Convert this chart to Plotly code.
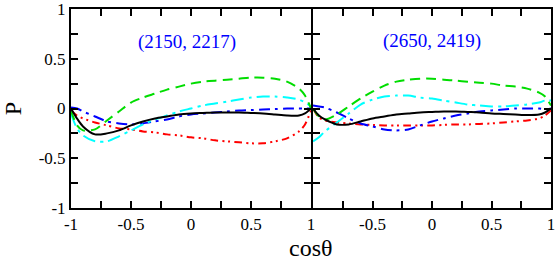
import plotly.graph_objects as go

cos_theta = [-1, -0.95, -0.9, -0.8, -0.7, -0.6, -0.5, -0.4, -0.3, -0.2, -0.1, 0,
             0.1, 0.2, 0.3, 0.4, 0.5, 0.6, 0.7, 0.8, 0.9, 0.95, 1]

panel_labels = ["(2150, 2217)", "(2650, 2419)"]

# Panel 1: (2150, 2217)
p1_black = [0.0, -0.10, -0.18, -0.26, -0.25, -0.22, -0.17, -0.13, -0.10, -0.08, -0.06, -0.05,
            -0.045, -0.04, -0.04, -0.04, -0.045, -0.05, -0.06, -0.07, -0.07, -0.05, 0.0]
p1_green = [-0.02, -0.17, -0.22, -0.21, -0.12, -0.03, 0.06, 0.11, 0.15, 0.19, 0.22, 0.25,
            0.27, 0.28, 0.29, 0.30, 0.31, 0.31, 0.30, 0.27, 0.20, 0.13, 0.0]
p1_cyan = [-0.05, -0.20, -0.27, -0.33, -0.33, -0.28, -0.22, -0.16, -0.11, -0.07, -0.03, 0.0,
           0.03, 0.05, 0.07, 0.09, 0.11, 0.12, 0.12, 0.11, 0.09, 0.06, 0.02]
p1_blue = [0.01, 0.0, -0.03, -0.08, -0.13, -0.15, -0.16, -0.15, -0.13, -0.11, -0.08, -0.06,
           -0.05, -0.04, -0.03, -0.02, -0.015, -0.01, -0.005, 0.0, 0.0, 0.0, 0.0]
p1_red = [-0.02, -0.07, -0.10, -0.14, -0.17, -0.20, -0.21, -0.23, -0.24, -0.26, -0.27, -0.29,
          -0.30, -0.32, -0.33, -0.34, -0.35, -0.35, -0.33, -0.30, -0.23, -0.16, -0.02]

# Panel 2: (2650, 2419)
p2_black = [0.0, -0.07, -0.11, -0.16, -0.16, -0.13, -0.10, -0.08, -0.06, -0.05, -0.04, -0.035,
            -0.03, -0.03, -0.035, -0.04, -0.05, -0.055, -0.06, -0.065, -0.06, -0.04, 0.0]
p2_green = [0.0, -0.08, -0.11, -0.06, 0.02, 0.10, 0.17, 0.23, 0.27, 0.29, 0.30, 0.30,
            0.29, 0.28, 0.27, 0.26, 0.25, 0.23, 0.22, 0.20, 0.16, 0.12, 0.03]
p2_cyan = [-0.33, -0.29, -0.23, -0.14, -0.05, 0.04, 0.09, 0.12, 0.13, 0.13, 0.11, 0.10,
           0.08, 0.06, 0.04, 0.03, 0.02, 0.02, 0.03, 0.04, 0.06, 0.08, 0.08]
p2_blue = [0.03, 0.02, 0.01, -0.04, -0.10, -0.15, -0.18, -0.21, -0.22, -0.21, -0.17, -0.13,
           -0.10, -0.07, -0.05, -0.03, -0.02, -0.01, 0.0, 0.0, 0.0, -0.01, 0.0]
p2_red = [0.0, -0.09, -0.12, -0.14, -0.15, -0.16, -0.165, -0.17, -0.17, -0.17, -0.17, -0.17,
          -0.165, -0.16, -0.16, -0.155, -0.15, -0.14, -0.13, -0.12, -0.10, -0.07, -0.02]

x1_tickvals = [-1, -0.5, 0, 0.5, 1]
x1_ticktext = ["-1", "-0.5", "0", "0.5", "1"]
x2_tickvals = [-0.5, 0, 0.5, 1]
x2_ticktext = ["-0.5", "0", "0.5", "1"]
y_tickvals = [-1, -0.5, 0, 0.5, 1]
y_ticktext = ["-1", "-0.5", "0", "0.5", "1"]

styles = [
    ("red", "#ff0000", "8px,4px,2px,4px,2px,4px"),
    ("blue", "#0000ff", "11px,5px,3px,5px"),
    ("cyan", "#00ffff", "13px,5px,3px,5px"),
    ("green", "#00dd00", "10px,6px"),
    ("black", "#000000", "solid"),
]
panel_data = [
    {"red": p1_red, "blue": p1_blue, "cyan": p1_cyan, "green": p1_green, "black": p1_black},
    {"red": p2_red, "blue": p2_blue, "cyan": p2_cyan, "green": p2_green, "black": p2_black},
]

fig = go.Figure()
for i, data in enumerate(panel_data):
    xa = "x" if i == 0 else "x2"
    ya = "y" if i == 0 else "y2"
    for name, color, dash in styles:
        fig.add_trace(go.Scatter(
            x=cos_theta, y=data[name], mode="lines", xaxis=xa, yaxis=ya,
            line=dict(color=color, width=2, dash=dash, shape="spline", smoothing=0.8),
            showlegend=False, hoverinfo="skip"))

font = "Liberation Serif"
minor = dict(ticks="inside", ticklen=7, tickwidth=1.5, tickcolor="black",
             tickmode="array", tickvals=[-0.75, -0.25, 0.25, 0.75], showgrid=False)
axis_common = dict(range=[-1, 1], showline=True, linewidth=2, linecolor="black", mirror="ticks",
                   ticks="inside", ticklen=7, tickwidth=1.5, tickcolor="black",
                   showgrid=False, zeroline=False, ticklabeloverflow="allow", automargin=False,
                   tickfont=dict(family=font, size=17, color="black"), minor=minor)

fig.update_layout(
    width=556, height=263,
    margin=dict(l=71, r=5, t=9, b=55),
    paper_bgcolor="white", plot_bgcolor="white",
    font=dict(family=font, color="black"),
    xaxis=dict(domain=[0, 240 / 480], anchor="y", tickmode="array", tickvals=x1_tickvals,
               ticktext=x1_ticktext, **axis_common),
    xaxis2=dict(domain=[242 / 480, 1], anchor="y2", tickmode="array", tickvals=x2_tickvals,
                ticktext=x2_ticktext, **axis_common),
    yaxis=dict(domain=[0, 1], anchor="x", tickmode="array", tickvals=y_tickvals,
               ticktext=y_ticktext,
               title=dict(text="P", font=dict(family=font, size=24, color="black"), standoff=14),
               **axis_common),
    yaxis2=dict(domain=[0, 1], anchor="x2", matches="y", tickmode="array", tickvals=y_tickvals,
                showticklabels=False, **axis_common),
    annotations=[
        dict(text=panel_labels[0], x=-0.03, y=0.67, xref="x", yref="y", showarrow=False,
             font=dict(family=font, size=19, color="#0000ff")),
        dict(text=panel_labels[1], x=0.0, y=0.68, xref="x2", yref="y2", showarrow=False,
             font=dict(family=font, size=19, color="#0000ff")),
        dict(text="cosθ", x=0.5, y=-0.2, xref="paper", yref="paper", xanchor="center",
             yanchor="middle", showarrow=False,
             font=dict(family=font, size=24, color="black")),
    ],
)

fig.write_html("out.html", config={"displayModeBar": False},
               post_script="document.body.style.margin='0';")
